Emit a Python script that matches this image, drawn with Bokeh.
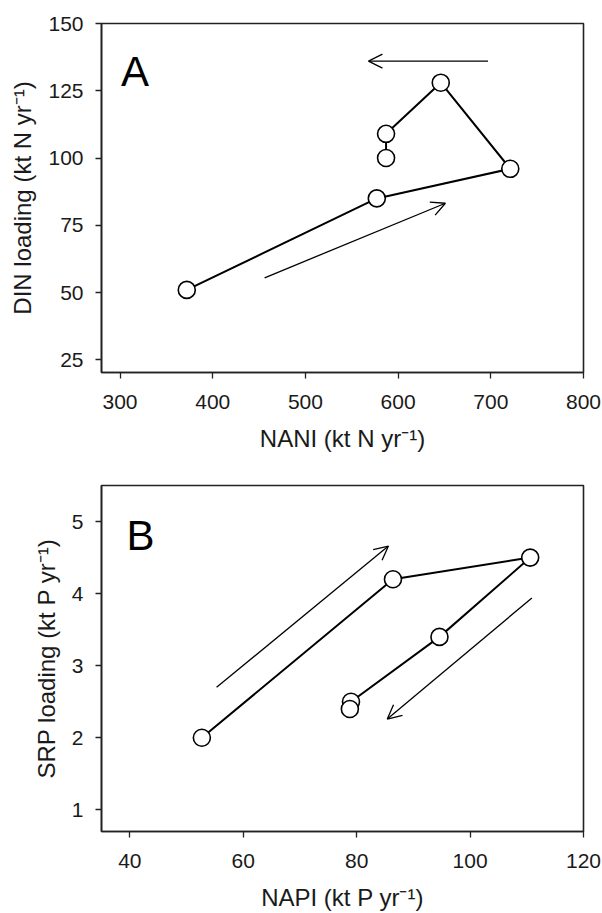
from bokeh.plotting import figure
from bokeh.models import Arrow, OpenHead, Label, FixedTicker, Range1d
from bokeh.layouts import column
from bokeh.embed import file_html
from bokeh.resources import INLINE

# Panel A data
nani = [372, 577, 721, 646, 587, 587]
din = [51, 85, 96, 128, 109, 100]
nani_ticks = [300, 400, 500, 600, 700, 800]
din_ticks = [25, 50, 75, 100, 125, 150]
arrows_a = [((697, 136), (568, 136)), ((456, 55.5), (651, 83.2))]

# Panel B data
napi = [52.7, 86.4, 110.6, 94.6, 79.0, 78.8]
srp = [2.0, 4.2, 4.5, 3.4, 2.5, 2.4]
napi_ticks = [40, 60, 80, 100, 120]
srp_ticks = [1, 2, 3, 4, 5]
arrows_b = [((55.3, 2.70), (85.6, 4.66)), ((110.9, 3.94), (85.4, 2.26))]

FONT = "Liberation Sans"
TXT = "#1a1a1a"


def make_panel(x, y, xr, yr, xt, yt, xlabel, ylabel, letter, letter_pos, arrows,
               height, bt, bb):
    p = figure(width=602, height=height, output_backend="svg", toolbar_location=None,
               x_range=Range1d(*xr), y_range=Range1d(*yr),
               min_border_left=101, min_border_right=19,
               min_border_top=bt, min_border_bottom=bb)
    p.xgrid.visible = False
    p.ygrid.visible = False
    p.outline_line_color = "#222222"
    p.outline_line_width = 1.6
    p.background_fill_color = "white"
    p.border_fill_color = "white"
    for ax, ticks in ((p.xaxis[0], xt), (p.yaxis[0], yt)):
        ax.ticker = FixedTicker(ticks=ticks)
        ax.minor_tick_line_color = None
        ax.major_tick_in = 0
        ax.major_tick_out = 6
        ax.major_tick_line_color = "#222222"
        ax.major_tick_line_width = 1.3
        ax.axis_line_color = "#222222"
        ax.axis_line_width = 1.6
        ax.major_label_text_font = FONT
        ax.major_label_text_font_size = "21px"
        ax.major_label_text_color = TXT
        ax.axis_label_text_font = FONT
        ax.axis_label_text_font_size = "24px"
        ax.axis_label_text_font_style = "normal"
        ax.axis_label_text_color = TXT
    p.xaxis.axis_label = xlabel
    p.yaxis.axis_label = ylabel
    p.xaxis.major_label_standoff = 16
    p.xaxis.axis_label_standoff = 13
    p.yaxis.major_label_standoff = 12
    p.yaxis.axis_label_standoff = 9

    for (x0, y0), (x1, y1) in arrows:
        p.add_layout(Arrow(x_start=x0, y_start=y0, x_end=x1, y_end=y1,
                           line_color="black", line_width=1.3,
                           end=OpenHead(size=14, line_color="black", line_width=1.3)))

    p.line(x, y, line_color="black", line_width=2)
    p.scatter(x, y, size=17, fill_color="white", line_color="black", line_width=1.6)

    p.add_layout(Label(x=letter_pos[0], y=letter_pos[1], text=letter,
                       text_font=FONT, text_font_size="42px", text_color="black",
                       text_baseline="alphabetic", text_align="left"))
    return p


pa = make_panel(nani, din, (280, 800), (20.3, 150), nani_ticks, din_ticks,
                "NANI (kt N yr\u207b\u00b9)", "DIN loading (kt N yr\u207b\u00b9)",
                "A", (301, 132), arrows_a, 460, 23, 88)
pb = make_panel(napi, srp, (35, 120), (0.7, 5.5), napi_ticks, srp_ticks,
                "NAPI (kt P yr\u207b\u00b9)", "SRP loading (kt P yr\u207b\u00b9)",
                "B", (39.4, 4.80), arrows_b, 453, 25, 82)

layout = column(pa, pb)
open("out.html", "w").write(file_html(layout, INLINE))
